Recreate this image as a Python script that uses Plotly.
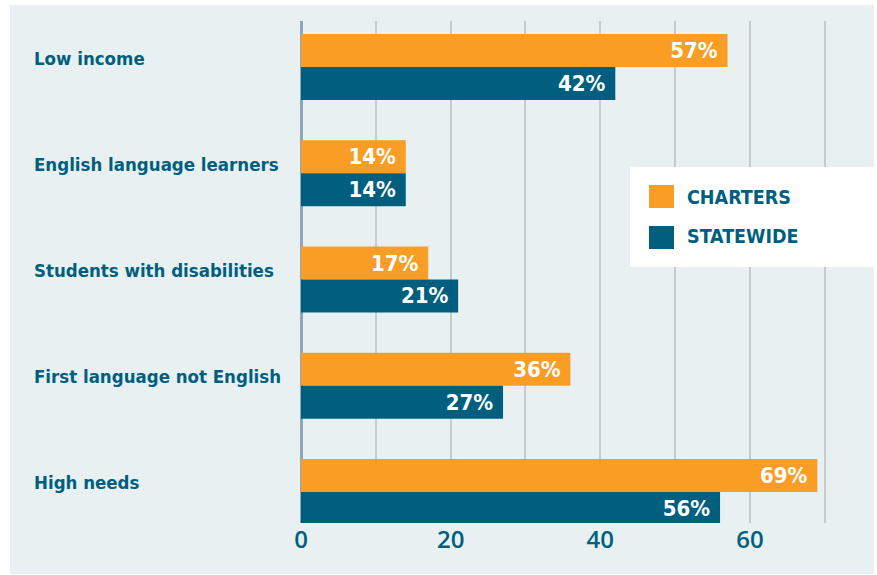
import plotly.graph_objects as go

categories = ["Low income", "English language learners", "Students with disabilities",
              "First language not English", "High needs"]
series_names = ["CHARTERS", "STATEWIDE"]
charters = [57, 14, 17, 36, 69]
statewide = [42, 14, 21, 27, 56]
tick_values = [0, 20, 40, 60]

ORANGE = "#F99D25"
TEAL = "#005F7E"
PANEL = "#E8F0F2"
GRID = "#C5CBD0"
AXIS = "#8DA7BA"
LABEL_FONT = "DejaVu Sans Condensed"

fig = go.Figure()
for name, vals, col in [(series_names[0], charters, ORANGE), (series_names[1], statewide, TEAL)]:
    fig.add_trace(go.Bar(
        y=categories, x=vals, name=name, orientation="h",
        marker=dict(color=col, line=dict(width=0)),
        texttemplate="%{x}%\u00a0", textposition="inside", insidetextanchor="end",
        textfont=dict(family=LABEL_FONT, size=22, color="white", weight="bold"),
        constraintext="none", showlegend=False, hoverinfo="skip",
    ))

# plot area geometry (pixels) for paper conversions
L, R, T, B = 299, 874, 21, 523
W, H = R - L, B - T
px = lambda x: (x - L) / W
py = lambda y: (B - y) / H

shapes = [
    dict(type="rect", xref="paper", yref="paper", x0=px(10), x1=1.0, y0=py(574), y1=py(5),
         fillcolor=PANEL, line=dict(width=0), layer="below"),
    dict(type="rect", xref="paper", yref="paper", x0=px(630), x1=px(880), y0=py(267), y1=py(167),
         fillcolor="white", line=dict(width=0), layer="above"),
    dict(type="rect", xref="paper", yref="paper", x0=px(649), x1=px(674), y0=py(208), y1=py(185),
         fillcolor=ORANGE, line=dict(width=0), layer="above"),
    dict(type="rect", xref="paper", yref="paper", x0=px(649), x1=px(674), y0=py(249), y1=py(226),
         fillcolor=TEAL, line=dict(width=0), layer="above"),
]

annotations = []
for c in categories:
    annotations.append(dict(x=px(32), xref="paper", y=c, yref="y", text=c, showarrow=False,
                            xanchor="left", yanchor="middle", yshift=9,
                            font=dict(family=LABEL_FONT, size=18.5, color=TEAL, weight="bold")))
for name, yc in zip(series_names, [197, 237]):
    annotations.append(dict(x=px(685), xref="paper", y=py(yc), yref="paper", text=name, showarrow=False,
                            xanchor="left", yanchor="middle",
                            font=dict(family=LABEL_FONT, size=19.5, color=TEAL, weight="bold")))

x0 = -2 / 7.483
fig.update_layout(
    width=877, height=575,
    margin=dict(l=L, r=877 - R, t=T, b=575 - B, pad=0),
    paper_bgcolor="white", plot_bgcolor=PANEL,
    barmode="group", bargap=0.38, bargroupgap=0,
    shapes=shapes, annotations=annotations,
    xaxis=dict(range=[x0, x0 + W / 7.483], tickmode="array", tickvals=tick_values,
               showgrid=True, gridcolor=GRID, gridwidth=2,
               minor=dict(dtick=10, tick0=0, showgrid=True, gridcolor=GRID, gridwidth=2),
               zeroline=True, zerolinecolor=AXIS, zerolinewidth=3,
               showline=False, ticks="",
               tickfont=dict(family="Open Sans", size=24, color=TEAL, weight=600)),
    yaxis=dict(categoryorder="array", categoryarray=categories,
               range=[4.292, -0.433], showticklabels=False, showgrid=False,
               zeroline=False, showline=False, ticks=""),
)

fig.write_html("out.html", config={"displayModeBar": False},
               post_script="document.body.style.margin='0';document.body.style.overflow='hidden';")
